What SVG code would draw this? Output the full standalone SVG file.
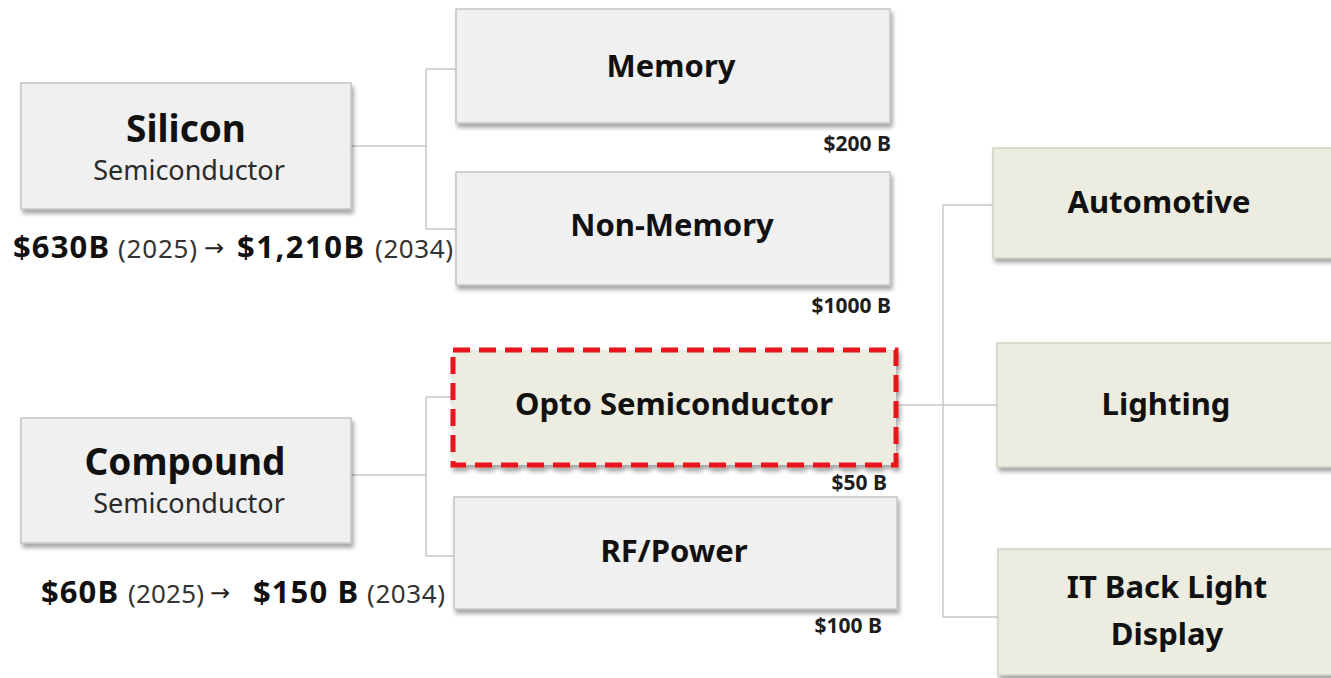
<svg xmlns="http://www.w3.org/2000/svg" width="1331" height="678" viewBox="0 0 1331 678">
<defs>
<filter id="sh" x="-5%" y="-10%" width="115%" height="130%">
<feDropShadow dx="2" dy="4" stdDeviation="2" flood-color="#000" flood-opacity="0.35"/>
</filter>
<style>
.box{fill:#f0f0f0;stroke:#c4c4c4;stroke-width:1.5;filter:url(#sh)}
.gbox{fill:#ecede0;stroke:#cfd1c2;stroke-width:1.5;filter:url(#sh)}
.opto{fill:#ecede0;stroke:#e8141c;stroke-width:5;stroke-dasharray:17 9;filter:url(#sh)}
.t{font-family:"Noto Sans","Open Sans",sans-serif;fill:#111;text-anchor:middle}
.h{font-weight:bold;font-size:31px}
.big{font-weight:bold;font-size:37px}
.sub{font-size:27px;fill:#2a2a2a}
.v{font-family:"Noto Sans","Open Sans",sans-serif;font-weight:bold;font-size:21px;fill:#1e1e1e;text-anchor:end}
.pb{font-family:"Noto Sans","Open Sans",sans-serif;font-weight:bold;font-size:31px;fill:#111}
.pr{font-family:"Noto Sans","Open Sans",sans-serif;font-size:26px;fill:#333}
.ar{font-family:"DejaVu Sans",sans-serif;font-size:24px;fill:#222}
.c{fill:none;stroke:#c8c8c8;stroke-width:1.5}
</style>
</defs>
<rect width="1331" height="678" fill="#fff"/>
<g id="connectors">
<path class="c" d="M351 146 H426 M426 69 V229 M426 69 H456 M426 229 H456"/>
<path class="c" d="M351 475 H426 M426 397 V556 M426 397 H452 M426 556 H454"/>
<path class="c" d="M897 405 H997 M943 205 V617 M943 205 H993 M943 617 H998"/>
</g>
<g id="silicon">
<rect class="box" x="21" y="83" width="330" height="126"/>
<text class="t big" x="186" y="142">Silicon</text>
<text class="t sub" x="189" y="180">Semiconductor</text>
<text class="pb" x="13" y="258" textLength="96">$630B</text>
<text class="pr" x="118" y="258" textLength="79">(2025)</text>
<text class="ar" x="204" y="256" textLength="26">→</text>
<text class="pb" x="237" y="258" textLength="127">$1,210B</text>
<text class="pr" x="375" y="258" textLength="78">(2034)</text>
</g>
<g id="compound">
<rect class="box" x="21" y="418" width="330" height="125"/>
<text class="t big" x="185" y="475">Compound</text>
<text class="t sub" x="189" y="513">Semiconductor</text>
<text class="pb" x="41" y="603" textLength="77">$60B</text>
<text class="pr" x="128" y="603" textLength="76">(2025)</text>
<text class="ar" x="210" y="601" textLength="28">→</text>
<text class="pb" x="253" y="603" textLength="105">$150 B</text>
<text class="pr" x="367" y="603" textLength="78">(2034)</text>
</g>
<g id="memory">
<rect class="box" x="456" y="9" width="434" height="114"/>
<text class="t h" x="671" y="77">Memory</text>
<text class="v" x="891" y="151">$200 B</text>
</g>
<g id="nonmemory">
<rect class="box" x="456" y="172" width="434" height="113"/>
<text class="t h" x="672" y="236">Non-Memory</text>
<text class="v" x="891" y="313">$1000 B</text>
</g>
<g id="opto">
<rect class="opto" x="453" y="350" width="443" height="115"/>
<text class="t h" x="674" y="415">Opto Semiconductor</text>
<text class="v" x="887" y="490">$50 B</text>
</g>
<g id="rfpower">
<rect class="box" x="454" y="497" width="443" height="112"/>
<text class="t h" x="674" y="562">RF/Power</text>
<text class="v" x="882" y="633">$100 B</text>
</g>
<g id="automotive">
<rect class="gbox" x="993" y="148" width="345" height="110"/>
<text class="t h" x="1159" y="213">Automotive</text>
</g>
<g id="lighting">
<rect class="gbox" x="997" y="343" width="341" height="124"/>
<text class="t h" x="1166" y="415">Lighting</text>
</g>
<g id="itbacklight">
<rect class="gbox" x="998" y="549" width="340" height="126"/>
<text class="t h" x="1167" y="598">IT Back Light</text>
<text class="t h" x="1167" y="645">Display</text>
</g>
</svg>
